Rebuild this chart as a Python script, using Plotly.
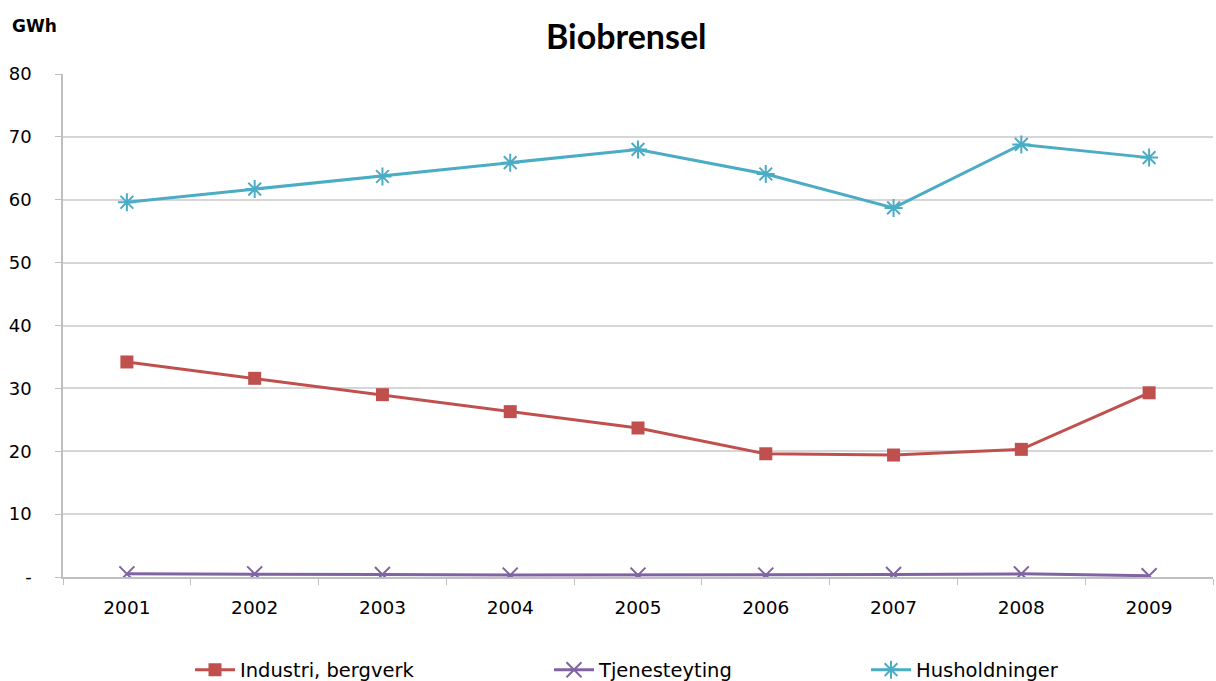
import plotly.graph_objects as go

years = ["2001", "2002", "2003", "2004", "2005", "2006", "2007", "2008", "2009"]
industri = [34.2, 31.6, 29.0, 26.3, 23.7, 19.6, 19.4, 20.3, 29.3]
tjeneste = [0.5, 0.5, 0.4, 0.3, 0.3, 0.3, 0.4, 0.5, 0.2]
husholdninger = [59.6, 61.7, 63.7, 65.9, 68.0, 64.1, 58.7, 68.8, 66.7]

SANS = "DejaVu Sans, sans-serif"
TITLE_FONT = "Lato, sans-serif"

fig = go.Figure()
fig.add_trace(go.Scatter(
    x=years, y=industri, name="Industri, bergverk", mode="lines+markers",
    line=dict(color="#C0504D", width=3),
    marker=dict(symbol="square", size=13, color="#C0504D"),
    legend="legend",
))
fig.add_trace(go.Scatter(
    x=years, y=tjeneste, name="Tjenesteyting", mode="lines+markers",
    line=dict(color="#8064A2", width=3),
    marker=dict(symbol="x-thin", size=15, line=dict(color="#8064A2", width=2)),
    legend="legend2",
))
fig.add_trace(go.Scatter(
    x=years, y=husholdninger, name="Husholdninger", mode="lines+markers",
    line=dict(color="#4BACC6", width=3),
    marker=dict(symbol="asterisk-open", size=15, line=dict(color="#4BACC6", width=2)),
    legend="legend3",
))

W, H = 1216, 681
legend_style = dict(orientation="h", xref="container", xanchor="left",
                    yref="container", y=(H - 670) / H, yanchor="middle",
                    itemwidth=40, bgcolor="rgba(0,0,0,0)",
                    font=dict(family=SANS, size=19.5, color="#000000"))


def legend_at(px):
    d = dict(legend_style)
    d["x"] = px / W
    return d


fig.update_layout(
    width=W, height=H,
    margin=dict(l=63, r=3, t=74, b=104),
    paper_bgcolor="white", plot_bgcolor="white",
    font=dict(family=SANS, size=18, color="#000000"),
    title=dict(text="<b>Biobrensel</b>", x=0.515, xanchor="center", y=0.945, yanchor="middle",
               font=dict(family=TITLE_FONT, size=34, color="#000000")),
    showlegend=True,
    legend=legend_at(190),
    legend2=legend_at(549),
    legend3=legend_at(866),
    xaxis=dict(
        type="category", showgrid=False, showline=True, linecolor="#BFBFBF", linewidth=1.5,
        ticks="outside", tickson="boundaries", ticklen=6, tickcolor="#BFBFBF",
        tickfont=dict(size=18.5, color="#000000"), range=[-0.5, 8.5],
        ticklabelstandoff=13,
    ),
    yaxis=dict(
        range=[0, 80], tickvals=[0, 10, 20, 30, 40, 50, 60, 70, 80],
        ticktext=["-", "10", "20", "30", "40", "50", "60", "70", "80"],
        showgrid=True, gridcolor="#D6D6D6", gridwidth=1.5,
        showline=True, linecolor="#BFBFBF", linewidth=1.5,
        ticks="outside", ticklen=6, tickcolor="#BFBFBF",
        tickfont=dict(size=18, color="#000000"), zeroline=False,
        ticklabelstandoff=20,
    ),
)

fig.add_annotation(text="<b>GWh</b>", xref="paper", yref="paper", x=-0.046, y=1.095,
                   xanchor="left", yanchor="middle", showarrow=False,
                   font=dict(family=SANS, size=17, color="#000000"))

fig.write_html("out.html")
